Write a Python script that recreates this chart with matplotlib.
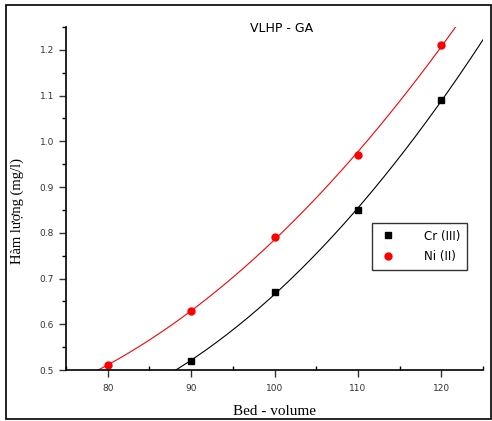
import numpy as np
import matplotlib.pyplot as plt
from matplotlib.patches import Rectangle
from matplotlib.ticker import MultipleLocator

# data
bed_cr = [90, 100, 110, 120]
cr = [0.52, 0.67, 0.85, 1.09]
bed_ni = [80, 90, 100, 110, 120]
ni = [0.51, 0.63, 0.79, 0.97, 1.21]

fig = plt.figure(figsize=(4.92, 4.21), dpi=100)
ax = fig.add_axes([0.134, 0.121, 0.848, 0.815])

# fitted curves (2nd order polynomial, like the Origin fit)
xs = np.linspace(75, 125, 200)
p_cr = np.polyfit(bed_cr, cr, 2)
p_ni = np.polyfit(bed_ni, ni, 2)
ax.plot(xs, np.polyval(p_cr, xs), color="black", lw=0.8)
ax.plot(xs, np.polyval(p_ni, xs), color="red", lw=0.8)

ax.plot(bed_cr, cr, "s", color="black", ms=4.5, label="Cr (III)", clip_on=False)
ax.plot(bed_ni, ni, "o", color="red", ms=5, label="Ni (II)", clip_on=False)

ax.set_xlim(75, 125)
ax.set_ylim(0.5, 1.25)
ax.xaxis.set_major_locator(MultipleLocator(10))
ax.xaxis.set_minor_locator(MultipleLocator(5))
ax.yaxis.set_major_locator(MultipleLocator(0.1))
ax.yaxis.set_minor_locator(MultipleLocator(0.05))
ax.yaxis.set_major_formatter(plt.FormatStrFormatter("%.1f"))

for s in ["top", "right"]:
    ax.spines[s].set_visible(False)
ax.spines["left"].set_linewidth(1.2)
ax.spines["bottom"].set_linewidth(1.2)

ax.tick_params(which="major", length=5, width=1, labelsize=6.5, colors="#333333")
ax.tick_params(axis="x", which="minor", direction="in", length=3, width=1)
ax.tick_params(axis="y", which="minor", direction="out", length=3, width=1)
ax.tick_params(axis="x", which="major", pad=5)

ax.set_xlabel("Bed - volume", family="Liberation Serif", fontsize=11, labelpad=9)
ax.set_ylabel("Hàm lượng (mg/l)", family="Liberation Serif", fontsize=10.5)
ax.yaxis.set_label_coords(-0.1, 0.464)
ax.set_title("VLHP - GA", fontsize=9, x=0.518, y=0.962)

leg = ax.legend(loc="upper left", bbox_to_anchor=(0.733, 0.43), fontsize=8.5,
                frameon=True, fancybox=False, edgecolor="black", borderpad=0.6,
                handletextpad=2.3, labelspacing=0.6, handlelength=1.5,
                borderaxespad=0)
leg.get_frame().set_linewidth(1.0)

# outer frame round the whole picture
fig.patches.append(Rectangle((0.013, 0.004), 0.985, 0.984, transform=fig.transFigure,
                             fill=False, edgecolor="black", lw=1.2))

fig.savefig("out.png", dpi=100)
